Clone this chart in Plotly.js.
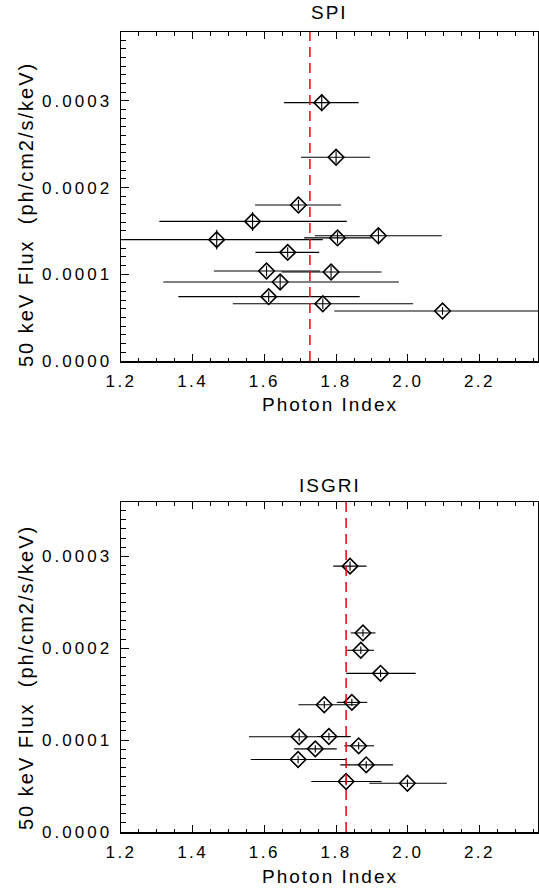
<!DOCTYPE html>
<html>
<head>
<meta charset="utf-8">
<script src="https://cdn.plot.ly/plotly-3.0.1.min.js"></script>
<style>
  html, body { margin: 0; padding: 0; background: #fff; }
  #chart { width: 539px; height: 893px; }
  .annotation-text { letter-spacing: 2px !important; }
</style>
</head>
<body>
<div id="chart"></div>
<script>
// ---- SPI panel data ----
const spiIndex   = [1.760, 1.800, 1.695, 1.567, 1.467, 1.804, 1.918, 1.665, 1.606, 1.786, 1.644, 1.612, 1.763, 2.097];
const spiIndexLo = [1.655, 1.702, 1.574, 1.307, 1.150, 1.711, 1.741, 1.575, 1.459, 1.648, 1.318, 1.360, 1.512, 1.795];
const spiIndexHi = [1.863, 1.895, 1.814, 1.830, 1.763, 1.899, 2.095, 1.753, 1.755, 1.927, 1.975, 1.866, 2.015, 2.400];
const spiFlux    = [2.98e-4, 2.35e-4, 1.80e-4, 1.61e-4, 1.40e-4, 1.42e-4, 1.445e-4, 1.253e-4, 1.038e-4, 1.027e-4, 0.911e-4, 0.742e-4, 0.661e-4, 0.577e-4];
const spiFluxErr = [1.0e-5, 0.7e-5, 0.6e-5, 1.1e-5, 1.15e-5, 0.65e-5, 0.85e-5, 0.6e-5, 0.6e-5, 0.7e-5, 0.9e-5, 0.6e-5, 0.6e-5, 0.45e-5];
const spiMean = 1.727;

// ---- ISGRI panel data ----
const isgriIndex   = [1.839, 1.875, 1.869, 1.924, 1.844, 1.767, 1.697, 1.780, 1.863, 1.742, 1.694, 1.884, 1.828, 1.999];
const isgriIndexLo = [1.792, 1.841, 1.831, 1.828, 1.802, 1.695, 1.557, 1.747, 1.823, 1.683, 1.562, 1.812, 1.731, 1.893];
const isgriIndexHi = [1.885, 1.910, 1.906, 2.022, 1.887, 1.857, 1.839, 1.841, 1.906, 1.802, 1.828, 1.959, 1.927, 2.109];
const isgriFlux    = [2.894e-4, 2.167e-4, 1.978e-4, 1.727e-4, 1.411e-4, 1.385e-4, 1.036e-4, 1.040e-4, 0.938e-4, 0.905e-4, 0.789e-4, 0.731e-4, 0.550e-4, 0.531e-4];
const isgriFluxErr = [0.5e-5, 0.4e-5, 0.4e-5, 0.4e-5, 0.4e-5, 0.4e-5, 0.5e-5, 0.4e-5, 0.4e-5, 0.4e-5, 0.4e-5, 0.4e-5, 0.4e-5, 0.4e-5];
const isgriMean = 1.828;

// ---- ticks / labels ----
const xTickVals = [1.2, 1.4, 1.6, 1.8, 2.0, 2.2];
const xTickText = ['1.2', '1.4', '1.6', '1.8', '2.0', '2.2'];
const yTickVals = [0, 1e-4, 2e-4, 3e-4];
const yTickText = ['0.0000', '0.0001', '0.0002', '0.0003'];
const panelTitles = ['SPI', 'ISGRI'];
const xTitle = 'Photon Index';
const yTitle = '50 keV Flux  (ph/cm2/s/keV)';

const xRange = [1.2, 2.3633];
const yRangeTop = [0, 3.795e-4];
const yRangeBot = [0, 3.592e-4];

const FONT = '"Liberation Sans", Arial, Helvetica, sans-serif';

function errTrace(x, lo, hi, y, ey, xa, ya) {
  return {
    type: 'scatter', mode: 'markers', x: x, y: y, xaxis: xa, yaxis: ya,
    marker: { symbol: 'diamond-open', size: 12, color: '#000', line: { width: 1.6, color: '#000' } },
    error_x: { type: 'data', symmetric: false,
      array: hi.map((h, i) => h - x[i]), arrayminus: lo.map((l, i) => x[i] - l),
      color: '#000', thickness: 1.1, width: 0 },
    error_y: { type: 'data', array: ey, color: '#000', thickness: 1.1, width: 0 },
    cliponaxis: true, showlegend: false, hoverinfo: 'skip'
  };
}

const data = [
  errTrace(spiIndex, spiIndexLo, spiIndexHi, spiFlux, spiFluxErr, 'x', 'y'),
  errTrace(isgriIndex, isgriIndexLo, isgriIndexHi, isgriFlux, isgriFluxErr, 'x2', 'y2')
];

function xAxis(anchor) {
  return {
    anchor: anchor, range: xRange, domain: [0, 1],
    showline: true, linecolor: '#000', linewidth: 1.5, mirror: 'ticks',
    ticks: 'inside', ticklen: 7, tickwidth: 1, tickcolor: '#000',
    tickvals: xTickVals, ticktext: xTickText,
    minor: { dtick: 0.05, tick0: 1.2, ticks: 'inside', ticklen: 3.5, tickwidth: 1, tickcolor: '#000', showgrid: false },
    showgrid: false, zeroline: false,
    tickfont: { family: FONT, size: 17, color: '#000' },
    ticklabelstandoff: 4
  };
}
function yAxis(anchor, domain, range) {
  return {
    anchor: anchor, domain: domain, range: range,
    showline: true, linecolor: '#000', linewidth: 1.5, mirror: true,
    ticks: 'inside', ticklen: 8, tickwidth: 1, tickcolor: '#000',
    tickvals: yTickVals, ticktext: yTickText,
    minor: { dtick: 1e-5, tick0: 0, ticks: 'inside', ticklen: 5, tickwidth: 1, tickcolor: '#000', showgrid: false },
    showgrid: false, zeroline: false,
    tickfont: { family: FONT, size: 17, color: '#000' },
    ticklabelstandoff: 1
  };
}
function yRight(overlay, range) {
  return {
    overlaying: overlay, side: 'right', anchor: overlay === 'y' ? 'x' : 'x2', range: range,
    showline: false, ticks: 'inside', ticklen: 3, tickwidth: 1, tickcolor: '#000',
    tickvals: yTickVals, showticklabels: false, showgrid: false, zeroline: false
  };
}

const topDom = [(893 - 361) / 893, (893 - 32) / 893];
const botDom = [(893 - 832) / 893, (893 - 502) / 893];

const layout = {
  width: 539, height: 893,
  margin: { l: 121, r: 1, t: 0, b: 0 },
  paper_bgcolor: '#fff', plot_bgcolor: '#fff',
  showlegend: false,
  xaxis: xAxis('y'),
  yaxis: yAxis('x', topDom, yRangeTop),
  xaxis2: xAxis('y2'),
  yaxis2: yAxis('x2', botDom, yRangeBot),
  yaxis3: yRight('y', yRangeTop),
  yaxis4: yRight('y2', yRangeBot),
  shapes: [
    { type: 'line', xref: 'x', yref: 'y domain', x0: spiMean, x1: spiMean, y0: 0, y1: 1,
      line: { color: '#e8000b', width: 1.5, dash: '10px,6px' } },
    { type: 'line', xref: 'x2', yref: 'y2 domain', x0: isgriMean, x1: isgriMean, y0: 0, y1: 1,
      line: { color: '#e8000b', width: 1.5, dash: '10px,6px' } }
  ],
  annotations: [
    { text: panelTitles[0], xref: 'paper', yref: 'paper', x: 0.5, y: (893 - 13) / 893,
      xanchor: 'center', yanchor: 'middle', showarrow: false, font: { family: FONT, size: 19, color: '#000' } },
    { text: panelTitles[1], xref: 'paper', yref: 'paper', x: 0.5, y: (893 - 485) / 893,
      xanchor: 'center', yanchor: 'middle', showarrow: false, font: { family: FONT, size: 19, color: '#000' } },
    { text: xTitle, xref: 'paper', yref: 'paper', x: 0.5, y: (893 - 404) / 893,
      xanchor: 'center', yanchor: 'middle', showarrow: false, font: { family: FONT, size: 19, color: '#000' } },
    { text: xTitle, xref: 'paper', yref: 'paper', x: 0.5, y: (893 - 876) / 893,
      xanchor: 'center', yanchor: 'middle', showarrow: false, font: { family: FONT, size: 19, color: '#000' } },
    { text: yTitle, xref: 'paper', yref: 'paper', x: (26 - 121) / 417, y: (893 - 215) / 893, textangle: -90,
      xanchor: 'center', yanchor: 'middle', showarrow: false, font: { family: FONT, size: 20, color: '#000' } },
    { text: yTitle, xref: 'paper', yref: 'paper', x: (26 - 121) / 417, y: (893 - 678) / 893, textangle: -90,
      xanchor: 'center', yanchor: 'middle', showarrow: false, font: { family: FONT, size: 20, color: '#000' } }
  ]
};

function spaceTicks() {
  document.querySelectorAll('g.xtick text, g.x2tick text').forEach(t => {
    t.style.letterSpacing = '2.5px';
    t.setAttribute('letter-spacing', '2.5');
  });
  document.querySelectorAll('g.ytick text, g.y2tick text').forEach(t => {
    t.style.letterSpacing = '3px';
    t.setAttribute('letter-spacing', '3');
    t.setAttribute('dx', '-3');
  });
}

Plotly.newPlot('chart', data, layout, { staticPlot: true, displayModeBar: false }).then(spaceTicks);
</script>
</body>
</html>
